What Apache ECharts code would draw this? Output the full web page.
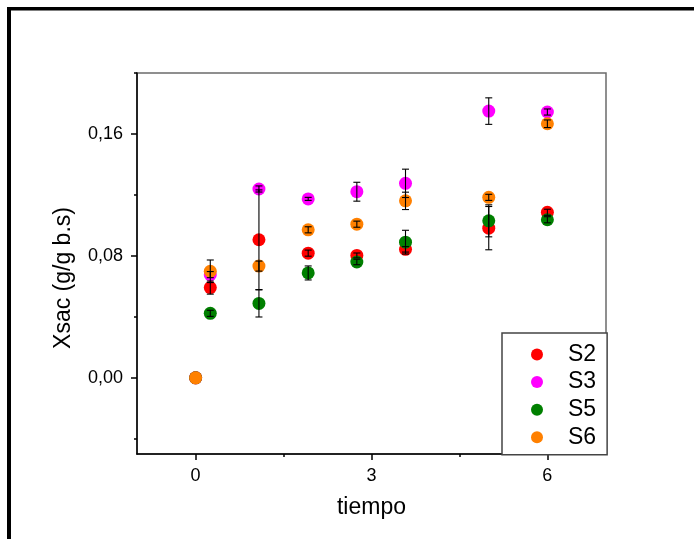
<!DOCTYPE html>
<html><head><meta charset="utf-8">
<script src="https://cdn.jsdelivr.net/npm/echarts@6/dist/echarts.min.js"></script>
<style>html,body{margin:0;padding:0;background:#fff}#c{width:694px;height:539px}</style>
</head><body><div id="c"></div>
<script>
// ---- data ----
const tiempo = [0, 0.25, 1.08, 1.92, 2.75, 3.58, 5, 6];
const seriesNames = ['S2', 'S3', 'S5', 'S6'];
const S2 = [0, 0.0592, 0.0906, 0.0818, 0.0803, 0.0843, 0.0982, 0.1086];
const S3 = [0, 0.0677, 0.1239, 0.1174, 0.1221, 0.1276, 0.1750, 0.1744];
const S5 = [0, 0.0423, 0.0488, 0.0688, 0.0760, 0.0890, 0.1030, 0.1037];
const S6 = [0, 0.0699, 0.0733, 0.0971, 0.1008, 0.1161, 0.1184, 0.1667];
const S2err = [0, 0.0043, 0.0327, 0.0020, 0.0016, 0.0018, 0.0142, 0.0020];
const S3err = [0, 0.0020, 0.0020, 0.0010, 0.0062, 0.0093, 0.0087, 0.0020];
const S5err = [0, 0.0020, 0.0089, 0.0046, 0.0018, 0.0078, 0.0105, 0.0020];
const S6err = [0, 0.0074, 0.0033, 0.0020, 0.0020, 0.0057, 0.0020, 0.0025];
const xMajorTicks = [0, 3, 6];
const xMinorTicks = [1.5, 4.5];
const yMajorTicks = [0, 0.08, 0.16];
const yMinorTicks = [-0.04, 0.04, 0.12, 0.2];

const values = [S2, S3, S5, S6];
const errors = [S2err, S3err, S5err, S6err];
const colors = ['#FF0000', '#FF00FF', '#008000', '#FF8000'];
const FONT = '"Liberation Sans", Arial, sans-serif';

const chart = echarts.init(document.getElementById('c'), null, {renderer: 'canvas'});

function errRender(params, api) {
  const x = api.value(0), lo = api.value(1), hi = api.value(2);
  if (hi - lo <= 0) return null;
  const a = api.coord([x, lo]), b = api.coord([x, hi]);
  const w = 3.5;
  const st = {stroke: '#000', lineWidth: 1.1};
  return {type: 'group', children: [
    {type: 'line', shape: {x1: a[0], y1: a[1], x2: b[0], y2: b[1]}, style: st},
    {type: 'line', shape: {x1: a[0] - w, y1: a[1], x2: a[0] + w, y2: a[1]}, style: st},
    {type: 'line', shape: {x1: b[0] - w, y1: b[1], x2: b[0] + w, y2: b[1]}, style: st}
  ]};
}

const series = [];
seriesNames.forEach((n, i) => {
  series.push({
    name: n, type: 'scatter', xAxisIndex: 0, yAxisIndex: 0,
    symbol: 'circle', symbolSize: 13,
    itemStyle: {color: colors[i], opacity: 1},
    data: tiempo.map((t, k) => [t, values[i][k]]),
    z: 2 + i * 0.1, emphasis: {disabled: true}
  });
});
seriesNames.forEach((n, i) => {
  series.push({
    name: n + ' err', type: 'custom', xAxisIndex: 0, yAxisIndex: 0,
    renderItem: errRender, z: 5,
    data: tiempo.map((t, k) => [t, values[i][k] - errors[i][k], values[i][k] + errors[i][k]]),
    encode: {x: 0, y: [1, 2]}, silent: true
  });
});

const fmt = v => Number(v).toFixed(2).replace('.', ',');

chart.setOption({
  animation: false,
  backgroundColor: '#fff',
  textStyle: {fontFamily: FONT},
  grid: [
    {left: 137, top: 73, right: 88, bottom: 85, show: true, borderColor: '#6b6b6b', borderWidth: 1.5, backgroundColor: 'transparent'},
    {left: 137, top: 73, right: 88, bottom: 85, show: false}
  ],
  xAxis: [
    {type: 'value', gridIndex: 0, min: -1, max: 7, position: 'bottom',
     name: 'tiempo', nameLocation: 'middle', nameGap: 42,
     nameTextStyle: {fontSize: 23, color: '#000', fontFamily: FONT},
     axisLine: {show: true, onZero: false, lineStyle: {color: '#000', width: 1.5}},
     axisTick: {show: true, inside: false, length: 6, lineStyle: {color: '#000', width: 1.5}, customValues: xMajorTicks},
     axisLabel: {show: true, margin: 13, fontSize: 18, color: '#000', fontFamily: FONT, customValues: xMajorTicks},
     splitLine: {show: false}},
    {type: 'value', gridIndex: 1, min: -1, max: 7, position: 'bottom',
     axisLine: {show: false, onZero: false},
     axisTick: {show: true, length: 3, lineStyle: {color: '#000', width: 1.5}, customValues: xMinorTicks},
     axisLabel: {show: false}, splitLine: {show: false}}
  ],
  yAxis: [
    {type: 'value', gridIndex: 0, min: -0.05, max: 0.2, position: 'left',
     axisLine: {show: true, onZero: false, lineStyle: {color: '#000', width: 1.5}},
     axisTick: {show: true, length: 6, lineStyle: {color: '#000', width: 1.5}, customValues: yMajorTicks},
     axisLabel: {show: true, margin: 14, fontSize: 18, color: '#000', fontFamily: FONT, formatter: fmt, customValues: yMajorTicks},
     splitLine: {show: false}},
    {type: 'value', gridIndex: 1, min: -0.05, max: 0.2, position: 'left',
     axisLine: {show: false, onZero: false},
     axisTick: {show: true, length: 3, lineStyle: {color: '#000', width: 1.5}, customValues: yMinorTicks},
     axisLabel: {show: false}, splitLine: {show: false}}
  ],
  legend: {
    data: seriesNames.map(n => ({name: n, icon: 'circle'})),
    orient: 'vertical', left: 502, top: 333,
    padding: [10, 11, 6, 29],
    itemWidth: 12, itemHeight: 12, itemGap: 4.6,
    textStyle: {fontSize: 23, lineHeight: 20, color: '#000', fontFamily: FONT, padding: [0, 0, 0, 20]},
    borderColor: '#444', borderWidth: 1.5, backgroundColor: '#fff',
    selectedMode: false
  },
  graphic: [
    {type: 'rect', shape: {x: 7, y: 7, width: 687, height: 3.5}, style: {fill: '#000'}},
    {type: 'rect', shape: {x: 7, y: 7, width: 4, height: 532}, style: {fill: '#000'}},
    {type: 'text', x: 64, y: 278, rotation: Math.PI / 2,
     style: {text: 'Xsac (g/g b.s)', fontSize: 23, fontFamily: FONT, fill: '#000', align: 'center', verticalAlign: 'middle'}}
  ],
  series: series
});
</script>
</body></html>
